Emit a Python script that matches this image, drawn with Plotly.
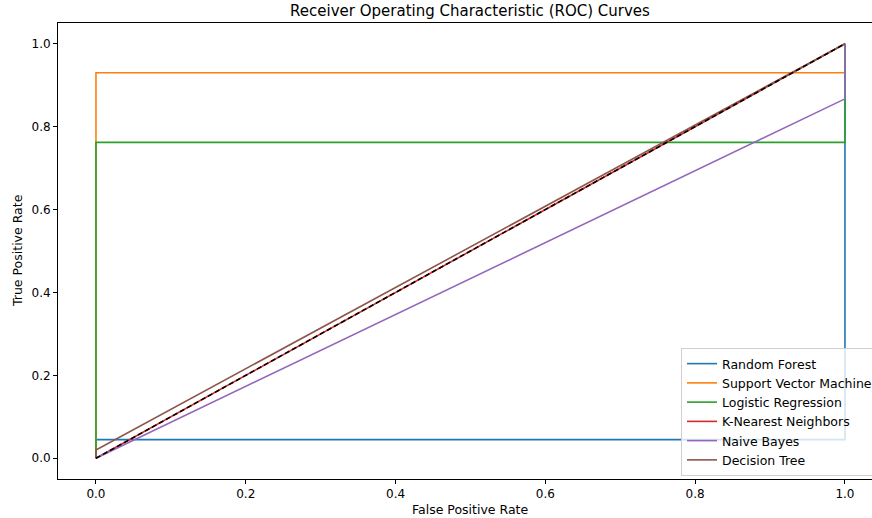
import plotly.graph_objects as go

# ROC curve data
rf_fpr = [0.0, 0.0, 1.0, 1.0]
rf_tpr = [0.0, 0.045, 0.045, 1.0]
svm_fpr = [0.0, 0.0, 1.0, 1.0]
svm_tpr = [0.0, 0.93, 0.93, 1.0]
lr_fpr = [0.0, 0.0, 1.0, 1.0]
lr_tpr = [0.0, 0.762, 0.762, 1.0]
knn_fpr = [0.0, 1.0]
knn_tpr = [0.0, 1.0]
nb_fpr = [0.0, 1.0, 1.0]
nb_tpr = [0.0, 0.867, 1.0]
dt_fpr = [0.0, 0.0, 1.0]
dt_tpr = [0.0, 0.02, 1.0]
chance_fpr = [0.0, 1.0]
chance_tpr = [0.0, 1.0]

names = ["Random Forest", "Support Vector Machine", "Logistic Regression",
         "K-Nearest Neighbors", "Naive Bayes", "Decision Tree"]
colors = ["#1f77b4", "#ff7f0e", "#2ca02c", "#d62728", "#9467bd", "#8c564b"]
series = [(rf_fpr, rf_tpr), (svm_fpr, svm_tpr), (lr_fpr, lr_tpr),
          (knn_fpr, knn_tpr), (nb_fpr, nb_tpr), (dt_fpr, dt_tpr)]

ticks = [0.0, 0.2, 0.4, 0.6, 0.8, 1.0]
tick_text = ["0.0", "0.2", "0.4", "0.6", "0.8", "1.0"]

fig = go.Figure()
for (x, y), n, c in zip(series, names, colors):
    fig.add_trace(go.Scatter(x=x, y=y, mode="lines", name=n,
                             line=dict(color=c, width=1.6)))
fig.add_trace(go.Scatter(x=chance_fpr, y=chance_tpr, mode="lines", showlegend=False,
                         line=dict(color="black", width=1.6, dash="5px,3px")))

W, H = 872, 518
L, R, T, B = 58, 0, 23, 39
font = "DejaVu Sans"

fig.update_layout(
    width=W, height=H,
    margin=dict(l=L, r=R, t=T, b=B, autoexpand=False),
    paper_bgcolor="white", plot_bgcolor="white",
    font=dict(family=font, size=12, color="black"),
    showlegend=True,
    legend=dict(x=(681 - L) / (W - L - R), xanchor="left",
                y=(479 - 476) / (H - T - B), yanchor="bottom",
                bgcolor="rgba(255,255,255,0.8)", bordercolor="#d0d0d0", borderwidth=1,
                font=dict(family=font, size=12.5, color="black"),
                tracegroupgap=0),
    xaxis=dict(range=[-0.0507, 1.0361], tickvals=ticks, ticktext=tick_text,
               showgrid=False, zeroline=False, showline=True, linecolor="black",
               linewidth=1, mirror=True, ticks="outside", ticklen=4, tickcolor="black",
               tickfont=dict(size=12)),
    yaxis=dict(range=[-0.05, 1.05], tickvals=ticks, ticktext=tick_text,
               showgrid=False, zeroline=False, showline=True, linecolor="black",
               linewidth=1, mirror=False, ticks="outside", ticklen=4, tickcolor="black",
               tickfont=dict(size=12)),
    title=dict(text="Receiver Operating Characteristic (ROC) Curves",
               x=(470 - L) / (W - L - R), xref="paper", xanchor="center",
               y=1 - 11 / H, yref="container", yanchor="middle",
               font=dict(family=font, size=15, color="black")),
)
fig.add_annotation(text="False Positive Rate", xref="paper", yref="paper",
                   x=(470 - L) / (W - L - R), y=-(509 - 479) / (H - T - B),
                   xanchor="center", yanchor="middle", showarrow=False,
                   font=dict(family=font, size=12.5))
fig.add_annotation(text="True Positive Rate", xref="paper", yref="paper",
                   x=-(L - 17) / (W - L - R), y=0.5, textangle=-90,
                   xanchor="center", yanchor="middle", showarrow=False,
                   font=dict(family=font, size=12.5))

fig.write_html("out.html", config={"displayModeBar": False},
               post_script="document.body.style.margin='0';document.body.style.overflow='hidden';")
